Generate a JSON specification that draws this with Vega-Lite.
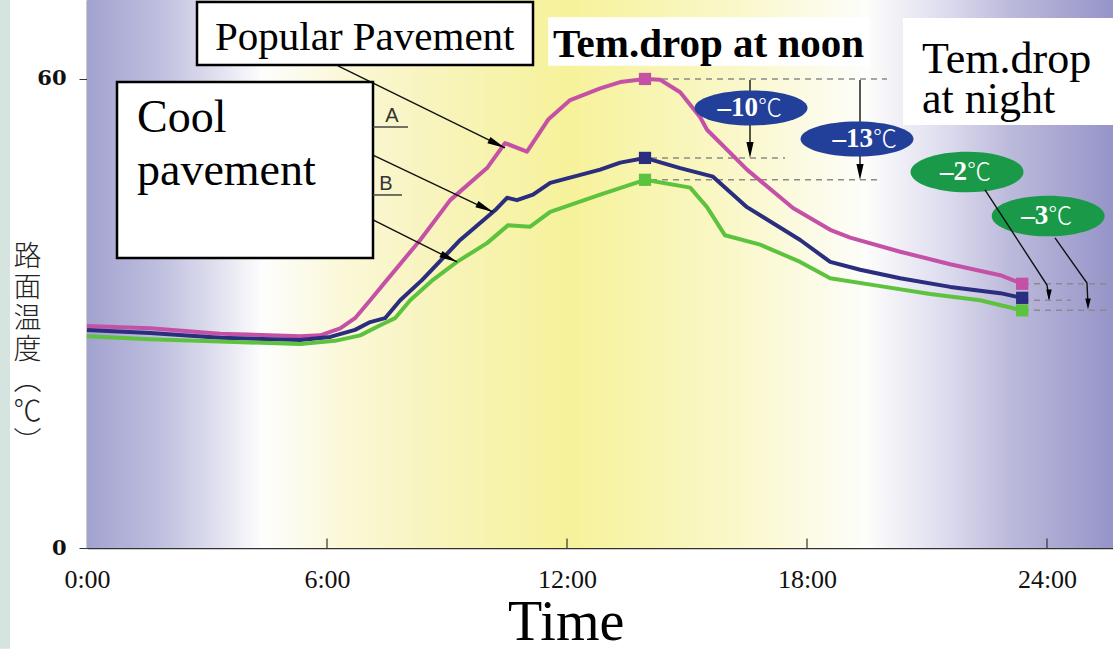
{
  "$schema": "https://vega.github.io/schema/vega-lite/v6.json",
  "width": 1026,
  "height": 548,
  "autosize": {"type": "none"},
  "padding": {"left": 87, "right": 0, "top": 0, "bottom": 101},
  "background": "#ffffff",
  "config": {"view": {"stroke": null}},
  "datasets": {
    "bg": [{"hour": 0, "hour2": 25.65, "temp": 0, "temp2": 70.1}],
    "strip": [{"hour": -2.175, "hour2": -1.925, "temp": -12.9, "temp2": 70.1}],
    "temps": [
      {"series": "Popular", "hour": 0, "temp": 28.4},
      {"series": "Popular", "hour": 1.58, "temp": 28.1},
      {"series": "Popular", "hour": 3.33, "temp": 27.4},
      {"series": "Popular", "hour": 5.33, "temp": 27.1},
      {"series": "Popular", "hour": 5.83, "temp": 27.2},
      {"series": "Popular", "hour": 6.33, "temp": 28.1},
      {"series": "Popular", "hour": 6.7, "temp": 29.4},
      {"series": "Popular", "hour": 7.08, "temp": 31.7},
      {"series": "Popular", "hour": 7.5, "temp": 34.3},
      {"series": "Popular", "hour": 8.33, "temp": 39.4},
      {"series": "Popular", "hour": 9.08, "temp": 44.5},
      {"series": "Popular", "hour": 10.0, "temp": 48.6},
      {"series": "Popular", "hour": 10.45, "temp": 51.8},
      {"series": "Popular", "hour": 11.0, "temp": 50.7},
      {"series": "Popular", "hour": 11.53, "temp": 54.8},
      {"series": "Popular", "hour": 12.08, "temp": 57.3},
      {"series": "Popular", "hour": 12.83, "temp": 58.8},
      {"series": "Popular", "hour": 13.33, "temp": 59.6},
      {"series": "Popular", "hour": 13.95, "temp": 60.0},
      {"series": "Popular", "hour": 14.33, "temp": 59.9},
      {"series": "Popular", "hour": 14.83, "temp": 58.3},
      {"series": "Popular", "hour": 15.33, "temp": 55.1},
      {"series": "Popular", "hour": 15.5, "temp": 53.5},
      {"series": "Popular", "hour": 16.5, "temp": 48.4},
      {"series": "Popular", "hour": 17.65, "temp": 43.5},
      {"series": "Popular", "hour": 18.58, "temp": 40.7},
      {"series": "Popular", "hour": 19.08, "temp": 39.7},
      {"series": "Popular", "hour": 20.33, "temp": 37.9},
      {"series": "Popular", "hour": 21.58, "temp": 36.3},
      {"series": "Popular", "hour": 22.83, "temp": 34.9},
      {"series": "Popular", "hour": 23.38, "temp": 33.8},
      {"series": "A", "hour": 0, "temp": 27.9},
      {"series": "A", "hour": 1.58, "temp": 27.5},
      {"series": "A", "hour": 3.33, "temp": 26.9},
      {"series": "A", "hour": 5.33, "temp": 26.6},
      {"series": "A", "hour": 6.08, "temp": 27.0},
      {"series": "A", "hour": 6.7, "temp": 27.9},
      {"series": "A", "hour": 7.08, "temp": 28.9},
      {"series": "A", "hour": 7.45, "temp": 29.4},
      {"series": "A", "hour": 7.83, "temp": 31.7},
      {"series": "A", "hour": 8.38, "temp": 34.3},
      {"series": "A", "hour": 9.33, "temp": 39.4},
      {"series": "A", "hour": 10.2, "temp": 43.2},
      {"series": "A", "hour": 10.5, "temp": 44.8},
      {"series": "A", "hour": 10.75, "temp": 44.5},
      {"series": "A", "hour": 11.15, "temp": 45.2},
      {"series": "A", "hour": 11.58, "temp": 46.7},
      {"series": "A", "hour": 12.83, "temp": 48.4},
      {"series": "A", "hour": 13.33, "temp": 49.3},
      {"series": "A", "hour": 13.95, "temp": 49.9},
      {"series": "A", "hour": 14.83, "temp": 48.6},
      {"series": "A", "hour": 15.65, "temp": 47.5},
      {"series": "A", "hour": 16.5, "temp": 43.6},
      {"series": "A", "hour": 17.83, "temp": 39.4},
      {"series": "A", "hour": 18.58, "temp": 36.6},
      {"series": "A", "hour": 19.33, "temp": 35.6},
      {"series": "A", "hour": 20.33, "temp": 34.5},
      {"series": "A", "hour": 21.58, "temp": 33.4},
      {"series": "A", "hour": 22.83, "temp": 32.6},
      {"series": "A", "hour": 23.38, "temp": 32.0},
      {"series": "B", "hour": 0, "temp": 27.1},
      {"series": "B", "hour": 1.58, "temp": 26.7},
      {"series": "B", "hour": 3.33, "temp": 26.4},
      {"series": "B", "hour": 5.33, "temp": 26.1},
      {"series": "B", "hour": 6.2, "temp": 26.5},
      {"series": "B", "hour": 6.83, "temp": 27.2},
      {"series": "B", "hour": 7.33, "temp": 28.5},
      {"series": "B", "hour": 7.7, "temp": 29.4},
      {"series": "B", "hour": 8.08, "temp": 31.7},
      {"series": "B", "hour": 8.65, "temp": 34.3},
      {"series": "B", "hour": 9.25, "temp": 36.6},
      {"series": "B", "hour": 10.0, "temp": 39.0},
      {"series": "B", "hour": 10.53, "temp": 41.3},
      {"series": "B", "hour": 11.08, "temp": 41.1},
      {"series": "B", "hour": 11.58, "temp": 43.0},
      {"series": "B", "hour": 12.83, "temp": 45.2},
      {"series": "B", "hour": 13.95, "temp": 47.1},
      {"series": "B", "hour": 15.08, "temp": 46.1},
      {"series": "B", "hour": 15.5, "temp": 43.6},
      {"series": "B", "hour": 15.95, "temp": 40.0},
      {"series": "B", "hour": 16.83, "temp": 38.8},
      {"series": "B", "hour": 17.83, "temp": 36.6},
      {"series": "B", "hour": 18.58, "temp": 34.5},
      {"series": "B", "hour": 19.83, "temp": 33.5},
      {"series": "B", "hour": 21.08, "temp": 32.5},
      {"series": "B", "hour": 22.33, "temp": 31.7},
      {"series": "B", "hour": 23.38, "temp": 30.4}
    ],
    "ends": [
      {"series": "Popular", "hour": 13.95, "temp": 60.0},
      {"series": "A", "hour": 13.95, "temp": 49.9},
      {"series": "B", "hour": 13.95, "temp": 47.1},
      {"series": "Popular", "hour": 23.38, "temp": 33.8},
      {"series": "A", "hour": 23.38, "temp": 32.0},
      {"series": "B", "hour": 23.38, "temp": 30.4}
    ],
    "dash": [
      {"hour": 14.1, "hour2": 20.0, "temp": 60.0},
      {"hour": 14.1, "hour2": 17.45, "temp": 49.9},
      {"hour": 14.1, "hour2": 19.8, "temp": 47.1},
      {"hour": 23.4, "hour2": 25.6, "temp": 33.8},
      {"hour": 23.4, "hour2": 24.6, "temp": 31.7},
      {"hour": 23.4, "hour2": 25.6, "temp": 30.4}
    ],
    "xticks": [
      {"hour": 6, "temp": 0, "temp2": 1.2},
      {"hour": 12, "temp": 0, "temp2": 1.2},
      {"hour": 18, "temp": 0, "temp2": 1.2},
      {"hour": 24, "temp": 0, "temp2": 1.2}
    ],
    "navyBadges": [{"hour": 16.6, "temp": 56.29}, {"hour": 19.25, "temp": 52.32}],
    "greenBadges": [{"hour": 22.0, "temp": 48.1}, {"hour": 24.03, "temp": 42.47}],
    "badgeNums": [
      {"hour": 16.775, "temp": 56.29, "label": "–10"},
      {"hour": 19.65, "temp": 52.32, "label": "–13"},
      {"hour": 22.0, "temp": 48.1, "label": "–2"},
      {"hour": 24.03, "temp": 42.47, "label": "–3"}
    ],
    "badgeUnits": [
      {"hour": 16.775, "temp": 56.29, "label": "℃"},
      {"hour": 19.65, "temp": 52.32, "label": "℃"},
      {"hour": 22.0, "temp": 48.1, "label": "℃"},
      {"hour": 24.03, "temp": 42.47, "label": "℃"}
    ],
    "leaders": [
      {"hour": 6.275, "temp": 61.66, "hour2": 10.45, "temp2": 51.17},
      {"hour": 7.15, "temp": 50.27, "hour2": 10.15, "temp2": 42.98},
      {"hour": 7.15, "temp": 41.96, "hour2": 9.25, "temp2": 36.59},
      {"hour": 16.575, "temp": 59.87, "hour2": 16.575, "temp2": 50.9},
      {"hour": 19.325, "temp": 59.87, "hour2": 19.325, "temp2": 48.1}
    ],
    "nightLeaders": [
      {"arrow": "d2", "hour": 22.45, "temp": 45.8},
      {"arrow": "d2", "hour": 24.0, "temp": 33.64},
      {"arrow": "d2", "hour": 24.05, "temp": 31.9},
      {"arrow": "d3", "hour": 24.2, "temp": 39.66},
      {"arrow": "d3", "hour": 25.0, "temp": 33.9},
      {"arrow": "d3", "hour": 25.025, "temp": 31.0}
    ],
    "heads26": [
      {"hour": 10.25, "temp": 51.68},
      {"hour": 9.95, "temp": 43.49},
      {"hour": 9.05, "temp": 37.09}
    ],
    "headsDownBig": [{"hour": 16.575, "temp": 50.9}, {"hour": 19.325, "temp": 48.1}],
    "headsDownSmall": [{"hour": 24.05, "temp": 32.37}, {"hour": 25.025, "temp": 31.2}],
    "whiteBoxes": [
      {"hour": 11.53, "hour2": 19.58, "temp": 61.7, "temp2": 67.9},
      {"hour": 20.4, "hour2": 25.65, "temp": 54.1, "temp2": 67.8}
    ],
    "framedBoxes": [
      {"hour": 2.75, "hour2": 11.15, "temp": 61.79, "temp2": 69.85},
      {"hour": 0.75, "hour2": 7.15, "temp": 37.1, "temp2": 59.6}
    ],
    "popularText": [{"hour": 3.2, "temp": 63.7, "label": "Popular Pavement"}],
    "coolText": [
      {"hour": 1.25, "temp": 53.2, "label": "Cool"},
      {"hour": 1.25, "temp": 46.4, "label": "pavement"}
    ],
    "nightText": [
      {"hour": 20.875, "temp": 60.77, "label": "Tem.drop"},
      {"hour": 20.875, "temp": 55.65, "label": "at night"}
    ],
    "noonText": [{"hour": 11.65, "temp": 62.81, "label": "Tem.drop at noon"}],
    "timeText": [{"hour": 11.98, "temp": -11.8, "label": "Time"}],
    "abText": [
      {"hour": 7.625, "temp": 54.5, "label": "A"},
      {"hour": 7.475, "temp": 45.8, "label": "B"}
    ],
    "abLines": [
      {"hour": 7.15, "hour2": 8.025, "temp": 53.86},
      {"hour": 7.15, "hour2": 7.875, "temp": 45.16}
    ]
  },
  "encoding": {
    "x": {
      "field": "hour",
      "type": "quantitative",
      "scale": {"domain": [0, 25.65], "nice": false, "zero": false},
      "axis": {
        "values": [0, 6, 12, 18, 24],
        "labelExpr": "datum.value + ':00'",
        "ticks": false,
        "grid": false,
        "domainColor": "#333333",
        "domainWidth": 1.5,
        "labelFont": "Liberation Serif",
        "labelFontSize": 26,
        "labelColor": "#111111",
        "labelPadding": 18,
        "labelFlush": false,
        "title": null
      }
    },
    "y": {
      "field": "temp",
      "type": "quantitative",
      "scale": {"domain": [0, 70.1], "nice": false, "zero": false},
      "axis": {
        "values": [0, 60],
        "grid": false,
        "tickSize": 8,
        "tickColor": "#333333",
        "domainColor": "#333333",
        "domainWidth": 1.5,
        "labelFont": "DejaVu Serif",
        "labelFontWeight": "bold",
        "labelFontSize": 21,
        "labelColor": "#111111",
        "labelPadding": 13,
        "title": ["路", "面", "温", "度", "︵", "℃", "︶"],
        "titleAngle": 0,
        "titleAlign": "center",
        "titleBaseline": "top",
        "titleX": -60,
        "titleY": 243,
        "titleLineHeight": 31,
        "titleFont": "Noto Sans CJK JP",
        "titleFontWeight": 300,
        "titleFontSize": 28,
        "titleColor": "#222222"
      }
    }
  },
  "layer": [
    {
      "data": {"name": "strip"},
      "mark": {"type": "rect", "color": "#d6e4e0"},
      "encoding": {"x2": {"field": "hour2"}, "y2": {"field": "temp2"}}
    },
    {
      "data": {"name": "bg"},
      "mark": {
        "type": "rect",
        "color": {
          "gradient": "linear",
          "x1": 0, "x2": 1, "y1": 0, "y2": 0,
          "stops": [
            {"offset": 0, "color": "#a2a2d0"},
            {"offset": 0.07, "color": "#bebede"},
            {"offset": 0.13, "color": "#e2e2f0"},
            {"offset": 0.17, "color": "#fdfdfd"},
            {"offset": 0.25, "color": "#fbf8d8"},
            {"offset": 0.33, "color": "#f8f4bf"},
            {"offset": 0.47, "color": "#f6f29a"},
            {"offset": 0.64, "color": "#faf8cc"},
            {"offset": 0.76, "color": "#fdfdfb"},
            {"offset": 0.83, "color": "#e0dff0"},
            {"offset": 0.9, "color": "#bcbadb"},
            {"offset": 1, "color": "#9694c8"}
          ]
        }
      },
      "encoding": {"x2": {"field": "hour2"}, "y2": {"field": "temp2"}}
    },
    {
      "data": {"name": "dash"},
      "mark": {"type": "rule", "color": "#8a8a8a", "strokeWidth": 1.5, "strokeDash": [6, 5]},
      "encoding": {"x2": {"field": "hour2"}}
    },
    {
      "data": {"name": "xticks"},
      "mark": {"type": "rule", "color": "#333333", "strokeWidth": 1.2},
      "encoding": {"y2": {"field": "temp2"}}
    },
    {
      "data": {"name": "temps"},
      "mark": {"type": "line", "strokeWidth": 4, "strokeJoin": "round", "strokeCap": "butt"},
      "encoding": {
        "color": {
          "field": "series",
          "type": "nominal",
          "scale": {"domain": ["Popular", "A", "B"], "range": ["#c451a6", "#2b2d7e", "#5dc23e"]},
          "legend": null
        }
      }
    },
    {
      "data": {"name": "ends"},
      "mark": {"type": "point", "shape": "square", "filled": true, "size": 150, "opacity": 1},
      "encoding": {
        "color": {
          "field": "series",
          "type": "nominal",
          "scale": {"domain": ["Popular", "A", "B"], "range": ["#c451a6", "#2b2d7e", "#5dc23e"]},
          "legend": null
        }
      }
    },
    {
      "data": {"name": "whiteBoxes"},
      "mark": {"type": "rect", "color": "#ffffff"},
      "encoding": {"x2": {"field": "hour2"}, "y2": {"field": "temp2"}}
    },
    {
      "data": {"name": "leaders"},
      "mark": {"type": "rule", "color": "#111111", "strokeWidth": 1.4},
      "encoding": {"x2": {"field": "hour2"}, "y2": {"field": "temp2"}}
    },
    {
      "data": {"name": "navyBadges"},
      "mark": {
        "type": "point", "filled": true, "opacity": 1, "color": "#22409a", "size": 12769,
        "shape": "M-1,0C-1,-0.171-0.552,-0.31 0,-0.31C0.552,-0.31 1,-0.171 1,0C1,0.171 0.552,0.31 0,0.31C-0.552,0.31-1,0.171-1,0Z"
      }
    },
    {
      "data": {"name": "greenBadges"},
      "mark": {
        "type": "point", "filled": true, "opacity": 1, "color": "#1a9a48", "size": 12769,
        "shape": "M-1,0C-1,-0.199-0.552,-0.36 0,-0.36C0.552,-0.36 1,-0.199 1,0C1,0.199 0.552,0.36 0,0.36C-0.552,0.36-1,0.199-1,0Z"
      }
    },
    {
      "data": {"name": "badgeNums"},
      "mark": {"type": "text", "align": "right", "baseline": "middle", "font": "Liberation Serif", "fontWeight": "bold", "fontSize": 27, "color": "#ffffff"},
      "encoding": {"text": {"field": "label"}}
    },
    {
      "data": {"name": "badgeUnits"},
      "mark": {"type": "text", "align": "left", "baseline": "middle", "font": "Noto Sans CJK JP", "fontWeight": 300, "fontSize": 24, "color": "#ffffff", "dy": 1},
      "encoding": {"text": {"field": "label"}}
    },
    {
      "data": {"name": "nightLeaders"},
      "mark": {"type": "line", "color": "#111111", "strokeWidth": 1.4},
      "encoding": {"detail": {"field": "arrow"}}
    },
    {
      "data": {"name": "heads26"},
      "mark": {"type": "point", "filled": true, "opacity": 1, "color": "#000000", "size": 324, "angle": 26, "shape": "M-1,-0.38L1,0L-1,0.38Z"}
    },
    {
      "data": {"name": "headsDownBig"},
      "mark": {"type": "point", "filled": true, "opacity": 1, "color": "#000000", "size": 256, "angle": 90, "shape": "M-1,-0.45L1,0L-1,0.45Z"}
    },
    {
      "data": {"name": "headsDownSmall"},
      "mark": {"type": "point", "filled": true, "opacity": 1, "color": "#000000", "size": 121, "angle": 90, "shape": "M-1,-0.5L1,0L-1,0.5Z"}
    },
    {
      "data": {"name": "framedBoxes"},
      "mark": {"type": "rect", "color": "#ffffff", "stroke": "#000000", "strokeWidth": 2.5},
      "encoding": {"x2": {"field": "hour2"}, "y2": {"field": "temp2"}}
    },
    {
      "data": {"name": "popularText"},
      "mark": {"type": "text", "align": "left", "baseline": "alphabetic", "font": "Liberation Serif", "fontSize": 41, "color": "#000000"},
      "encoding": {"text": {"field": "label"}}
    },
    {
      "data": {"name": "coolText"},
      "mark": {"type": "text", "align": "left", "baseline": "alphabetic", "font": "Liberation Serif", "fontSize": 46, "color": "#000000"},
      "encoding": {"text": {"field": "label"}}
    },
    {
      "data": {"name": "nightText"},
      "mark": {"type": "text", "align": "left", "baseline": "alphabetic", "font": "Liberation Serif", "fontSize": 44, "color": "#000000"},
      "encoding": {"text": {"field": "label"}}
    },
    {
      "data": {"name": "noonText"},
      "mark": {"type": "text", "align": "left", "baseline": "alphabetic", "font": "Liberation Serif", "fontWeight": "bold", "fontSize": 41, "color": "#000000"},
      "encoding": {"text": {"field": "label"}}
    },
    {
      "data": {"name": "timeText"},
      "mark": {"type": "text", "align": "center", "baseline": "alphabetic", "font": "Liberation Serif", "fontSize": 56, "color": "#000000"},
      "encoding": {"text": {"field": "label"}}
    },
    {
      "data": {"name": "abText"},
      "mark": {"type": "text", "align": "center", "baseline": "alphabetic", "font": "Liberation Sans", "fontSize": 20, "color": "#333333"},
      "encoding": {"text": {"field": "label"}}
    },
    {
      "data": {"name": "abLines"},
      "mark": {"type": "rule", "color": "#444444", "strokeWidth": 1.5},
      "encoding": {"x2": {"field": "hour2"}}
    }
  ]
}
